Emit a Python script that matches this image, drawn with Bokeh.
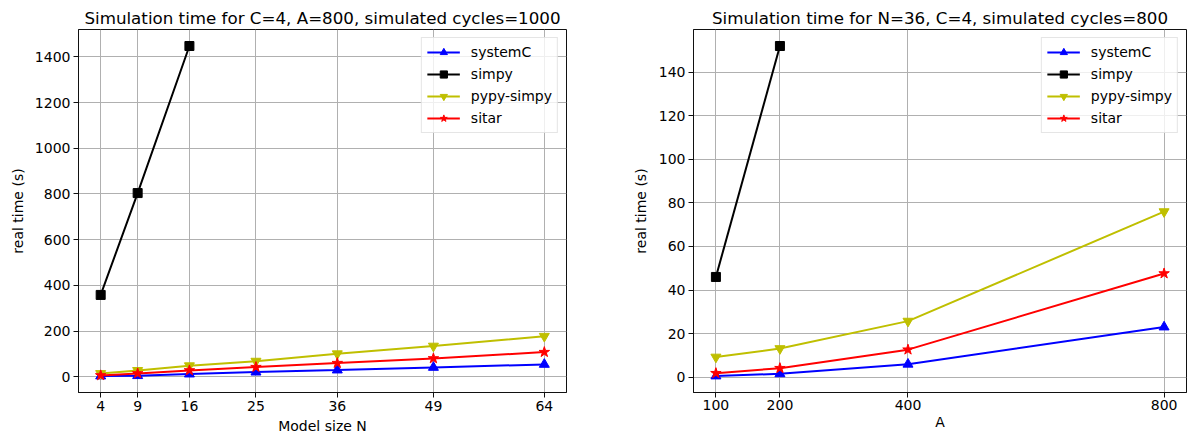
from bokeh.plotting import figure
from bokeh.layouts import row
from bokeh.models import Range1d, FixedTicker
from bokeh.embed import file_html
from bokeh.resources import INLINE

# ---------------- data ----------------
model_size_n = [4, 9, 16, 25, 36, 49, 64]
left_systemc = [3, 4.4, 11.4, 20, 29, 40.6, 53.8]
left_simpy_n = [4, 9, 16]
left_simpy = [358, 804, 1448]
left_pypy = [14, 27.5, 48, 68, 100.5, 134, 177]
left_sitar = [5.7, 14.4, 27.5, 42, 59.5, 80, 107.6]
left_yticks = [0, 200, 400, 600, 800, 1000, 1200, 1400]

a_values = [100, 200, 400, 800]
right_systemc = [0.5, 1.5, 5.9, 23.0]
right_simpy_a = [100, 200]
right_simpy = [46.0, 152.1]
right_pypy = [9.2, 13.1, 25.7, 76.0]
right_sitar = [1.8, 4.1, 12.6, 47.6]
right_yticks = [0, 20, 40, 60, 80, 100, 120, 140]

titles = ["Simulation time for C=4, A=800, simulated cycles=1000",
          "Simulation time for N=36, C=4, simulated cycles=800"]
xlabels = ["Model size N", "A"]
ylabel = "real time (s)"

BLUE, BLACK, YELLOW, RED = "#0000ff", "#000000", "#bfbf00", "#ff0000"
FONT = "DejaVu Sans"


def pad_range(vals, frac=0.05):
    lo, hi = min(vals), max(vals)
    d = (hi - lo) * frac
    return lo - d, hi + d


def make_fig(title, xlabel, xs, ys_all, xticks, yticks, width, mb_left, mb_right, mb_top, mb_bottom,
             ylabel_standoff, xlab_standoff, xtick_standoff):
    x0, x1 = pad_range(xs)
    y0, y1 = pad_range(ys_all)
    p = figure(width=width, height=441, output_backend="svg", toolbar_location=None,
               x_range=Range1d(x0, x1), y_range=Range1d(y0, y1),
               min_border_left=mb_left, min_border_right=mb_right,
               min_border_top=mb_top, min_border_bottom=mb_bottom,
               title=title)
    p.title.text_font = FONT
    p.title.text_font_size = "16.7px"
    p.title.text_font_style = "normal"
    p.title.text_color = "black"
    p.title.align = "center"
    p.title.standoff = 3
    p.outline_line_color = "#111111"
    p.outline_line_width = 1
    p.outline_line_alpha = 1
    p.background_fill_color = "white"
    p.border_fill_color = "white"
    p.xaxis.ticker = FixedTicker(ticks=xticks)
    p.yaxis.ticker = FixedTicker(ticks=yticks)
    for ax in (p.xaxis[0], p.yaxis[0]):
        ax.axis_line_color = "#111111"
        ax.major_tick_line_color = "#111111"
        ax.major_tick_out = 5
        ax.major_tick_in = 0
        ax.minor_tick_line_color = None
        ax.major_label_text_font = FONT
        ax.major_label_text_font_size = "14px"
        ax.major_label_text_color = "black"
        ax.major_label_standoff = 3
        ax.axis_label_text_font = FONT
        ax.axis_label_text_font_size = "14px"
        ax.axis_label_text_font_style = "normal"
        ax.axis_label_text_color = "black"
        ax.axis_label_standoff = 4
    p.yaxis[0].axis_label_standoff = ylabel_standoff
    p.xaxis[0].axis_label_standoff = xlab_standoff
    p.xaxis[0].major_label_standoff = xtick_standoff
    p.xaxis.axis_label = xlabel
    p.yaxis.axis_label = ylabel
    p.xgrid.ticker = FixedTicker(ticks=xticks)
    p.ygrid.ticker = FixedTicker(ticks=yticks)
    for g in (p.xgrid[0], p.ygrid[0]):
        g.grid_line_color = "#b0b0b0"
        g.grid_line_width = 1
    return p


def add_series(p, x, y, color, marker, size, label):
    p.line(x, y, line_color=color, line_width=2, legend_label=label)
    p.scatter(x, y, marker=marker, size=size, fill_color=color, line_color=color,
              legend_label=label)


def style_legend(p):
    lg = p.legend[0]
    lg.location = "top_right"
    lg.margin = 8
    lg.padding = 5
    lg.spacing = 4
    lg.glyph_width = 33
    lg.glyph_height = 18
    lg.label_height = 18
    lg.label_standoff = 11
    lg.label_text_font = FONT
    lg.label_text_font_size = "14px"
    lg.label_text_color = "black"
    lg.border_line_color = "#cccccc"
    lg.border_line_width = 1
    lg.background_fill_alpha = 0.8


left_all = left_systemc + left_simpy + left_pypy + left_sitar
p1 = make_fig(titles[0], xlabels[0], model_size_n, left_all, model_size_n, left_yticks,
              600, 78, 34, 29, 49, 6, 4, 3)
add_series(p1, model_size_n, left_systemc, BLUE, "triangle", 10, "systemC")
add_series(p1, left_simpy_n, left_simpy, BLACK, "square", 9, "simpy")
add_series(p1, model_size_n, left_pypy, YELLOW, "inverted_triangle", 10, "pypy-simpy")
add_series(p1, model_size_n, left_sitar, RED, "star", 11, "sitar")
style_legend(p1)

right_all = right_systemc + right_simpy + right_pypy + right_sitar
p2 = make_fig(titles[1], xlabels[1], a_values, right_all, a_values, right_yticks,
              587, 93, 1, 26, 45, 7, 1, 2)
add_series(p2, a_values, right_systemc, BLUE, "triangle", 10, "systemC")
add_series(p2, right_simpy_a, right_simpy, BLACK, "square", 9, "simpy")
add_series(p2, a_values, right_pypy, YELLOW, "inverted_triangle", 10, "pypy-simpy")
add_series(p2, a_values, right_sitar, RED, "star", 11, "sitar")
style_legend(p2)

layout = row(p1, p2)
open("out.html", "w").write(file_html(layout, INLINE))
